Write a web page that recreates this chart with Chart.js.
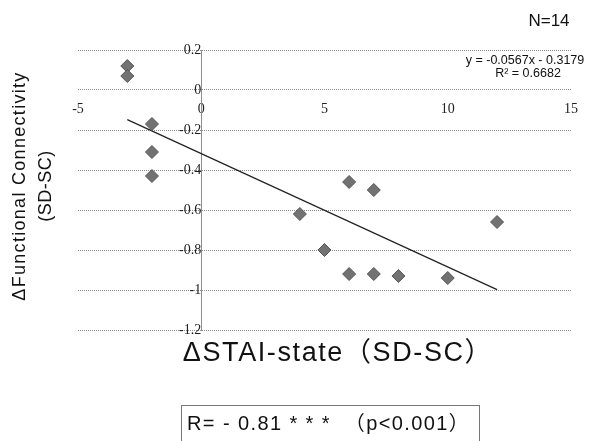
<!DOCTYPE html>
<html>
<head>
<meta charset="utf-8">
<script src="https://cdn.jsdelivr.net/npm/chart.js@4.4.0/dist/chart.umd.min.js"></script>
<style>
  html, body { margin: 0; padding: 0; background: #fff; }
  #wrap { position: relative; width: 599px; height: 441px; }
</style>
</head>
<body>
<div id="wrap"><canvas id="scatter" width="599" height="441"></canvas></div>
<script>
// ΔSTAI-state vs ΔFunctional Connectivity (N=14)
const staiDelta = [-3, -3, -2, -2, -2, 4, 5, 6, 7, 12, 6, 7, 8, 10];
const fcDelta = [0.12, 0.07, -0.17, -0.31, -0.43, -0.62, -0.80, -0.46, -0.50, -0.66, -0.92, -0.92, -0.93, -0.94];

// fitted line endpoints, y = -0.0567x - 0.3179
const trendX = [-3, 12];
const trendY = [-0.148, -0.998];

const xTicks = [-5, 0, 5, 10, 15];
const yTicks = [0.2, 0, -0.2, -0.4, -0.6, -0.8, -1, -1.2];

const eqText = "y = -0.0567x - 0.3179";
const r2Text = "R² = 0.6682";
const nText = "N=14";
const statText = "R= - 0.81 * * *  （p<0.001）";

const textLayer = {
    id: 'textLayer',
    afterDraw(chart) {
        const ctx = chart.ctx;
        ctx.save();
        ctx.fillStyle = '#111';
        ctx.textBaseline = 'middle';

        ctx.font = '17px "Liberation Sans"';
        ctx.textAlign = 'center';
        ctx.fillText(nText, 549, 21);

        ctx.font = '12.5px "Liberation Sans"';
        ctx.fillText(eqText, 525, 61);
        ctx.fillText(r2Text, 528, 74);

        // y axis title, two rotated lines
        ctx.save();
        ctx.translate(20, 186);
        ctx.rotate(-Math.PI / 2);
        ctx.textAlign = 'center';
        ctx.font = '18px "Liberation Sans"';
        ctx.letterSpacing = '1.3px';
        ctx.fillText("ΔFunctional Connectivity", 0, 0);
        ctx.letterSpacing = '0.5px';
        ctx.fillText("(SD-SC)", 0, 26);
        ctx.restore();

        // x axis title
        ctx.font = '27px "Liberation Sans", "Noto Sans CJK JP"';
        ctx.letterSpacing = '1.6px';
        ctx.textAlign = 'center';
        ctx.fillText("ΔSTAI-state（SD-SC）", 338, 354);

        // stats box
        ctx.letterSpacing = '0px';
        ctx.strokeStyle = '#777';
        ctx.lineWidth = 1;
        ctx.strokeRect(181.5, 405.5, 298, 40);
        ctx.font = '20px "Liberation Sans", "Noto Sans CJK JP"';
        ctx.letterSpacing = '1.4px';
        ctx.textAlign = 'left';
        ctx.fillText(statText, 187, 424);
        ctx.restore();
    }
};

const chart = new Chart(document.getElementById('scatter'), {
    type: 'scatter',
    data: {
        datasets: [
            {
                label: 'data',
                data: staiDelta.map((x, i) => ({ x: x, y: fcDelta[i] })),
                pointStyle: 'rectRot',
                pointRadius: 6.5,
                backgroundColor: '#727272',
                borderColor: '#555555',
                borderWidth: 1
            },
            {
                type: 'line',
                label: 'trend',
                data: trendX.map((x, i) => ({ x: x, y: trendY[i] })),
                borderColor: '#222',
                borderWidth: 1.2,
                pointRadius: 0,
                fill: false
            }
        ]
    },
    plugins: [textLayer],
    options: {
        responsive: false,
        animation: false,
        layout: { padding: { left: 78, right: 28, top: 50, bottom: 111 } },
        plugins: {
            legend: { display: false },
            tooltip: { enabled: false }
        },
        scales: {
            x: {
                type: 'linear',
                min: -5,
                max: 15,
                position: { y: 0 },
                afterBuildTicks: (axis) => { axis.ticks = xTicks.map(v => ({ value: v })); },
                grid: { display: false, drawTicks: false },
                border: { display: false },
                ticks: {
                    padding: 11,
                    color: '#222',
                    font: { family: '"Liberation Serif"', size: 14 }
                }
            },
            y: {
                type: 'linear',
                min: -1.2,
                max: 0.2,
                position: { x: 0 },
                afterBuildTicks: (axis) => { axis.ticks = yTicks.map(v => ({ value: v })); },
                grid: { color: '#8c8c8c', lineWidth: 1, drawTicks: false, tickBorderDash: [1, 1] },
                border: { display: true, color: '#8c8c8c', dash: [1, 1] },
                ticks: {
                    padding: 11,
                    color: '#222',
                    font: { family: '"Liberation Serif"', size: 14 },
                    callback: (v) => String(Number(v.toFixed(1)))
                }
            }
        }
    }
});
</script>
</body>
</html>
